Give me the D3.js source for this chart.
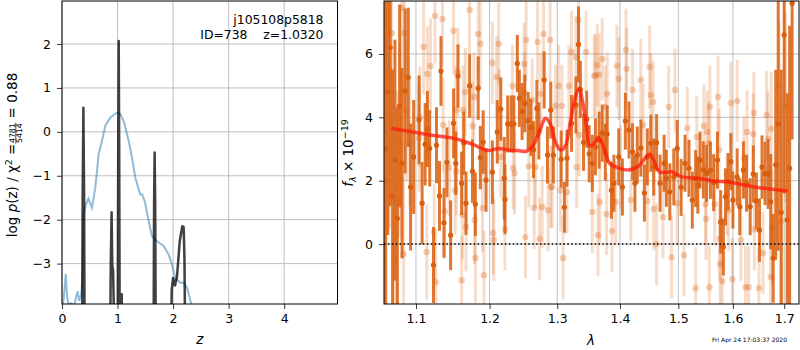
<!DOCTYPE html>
<html>
<head>
<meta charset="utf-8">
<script src="https://cdn.jsdelivr.net/npm/d3@7"></script>
<style>
  body { margin: 0; background: #fff; }
  svg { display: block; font-family: "DejaVu Sans", sans-serif; }
</style>
</head>
<body>
<div id="chart"></div>
<script>
// ---- p(z) panel ----
const zTicks = [0, 1, 2, 3, 4];
const pTicks = [-3, -2, -1, 0, 1, 2];
// chi2 curve (blue)
const chiZ   = [0.0, 0.02, 0.045, 0.067, 0.09, 0.11, 0.16, 0.22, 0.28, 0.31, 0.35, 0.37, 0.385, 0.43, 0.476, 0.54, 0.6, 0.66, 0.72, 0.78, 0.87, 0.99, 1.05, 1.12, 1.2, 1.26, 1.32, 1.38, 1.41, 1.44, 1.49, 1.56, 1.62, 1.71, 1.83, 1.92, 1.98, 2.04, 2.13, 2.19, 2.25, 2.33, 2.4];
const chiLog = [-4.1, -3.92, -3.6, -3.24, -3.7, -3.92, -3.9, -3.95, -3.63, -3.85, -3.68, -3.2, -1.88, -1.65, -1.52, -1.73, -1.27, -0.51, -0.2, 0.14, 0.33, 0.44, 0.41, 0.21, -0.2, -0.58, -1.04, -1.31, -1.43, -1.42, -1.58, -2.03, -2.37, -2.49, -2.6, -2.79, -3.02, -3.33, -3.44, -3.43, -3.55, -3.93, -4.3];
// p(z) curve (dark)
const pzZ   = [0.3, 0.36, 0.372, 0.385, 0.398, 0.41, 0.86, 0.878, 0.893, 0.905, 0.92, 0.935, 0.96, 1.0, 1.012, 1.021, 1.03, 1.042, 1.06, 1.075, 1.09, 1.645, 1.658, 1.668, 1.678, 1.692, 1.955, 1.975, 2.0, 2.035, 2.07, 2.12, 2.165, 2.19, 2.205, 2.225, 2.3];
const pzLog = [-6, -6, -1.5, 0.55, -1.5, -6, -6, -3.0, -1.83, -3.05, -3.15, -4.2, -6, -6, -0.5, 2.07, -0.5, -6, -4.2, -3.7, -6, -6, -1.6, -0.47, -1.6, -6, -6, -3.6, -3.33, -3.5, -3.3, -2.49, -2.15, -2.17, -2.9, -6, -6];

// ---- spectrum panel ----
const lamTicks  = [1.1, 1.2, 1.3, 1.4, 1.5, 1.6, 1.7];
const fluxTicks = [0, 2, 4, 6];
// dark (high weight) spectrum
const darkWave = [1.061, 1.064, 1.067, 1.070, 1.073, 1.076, 1.079, 1.082, 1.086, 1.090, 1.093, 1.097, 1.104, 1.108, 1.112, 1.115, 1.118, 1.123, 1.127, 1.131, 1.133, 1.137, 1.141, 1.146, 1.150, 1.153, 1.156, 1.161, 1.164, 1.167, 1.172, 1.176, 1.180, 1.184, 1.187, 1.191, 1.195, 1.204, 1.211, 1.216, 1.221, 1.222, 1.226, 1.231, 1.235, 1.240, 1.243, 1.247, 1.251, 1.256, 1.260, 1.264, 1.269, 1.272, 1.280, 1.285, 1.290, 1.294, 1.306, 1.311, 1.315, 1.322, 1.329, 1.333, 1.336, 1.341, 1.346, 1.350, 1.355, 1.360, 1.366, 1.371, 1.376, 1.379, 1.386, 1.390, 1.398, 1.404, 1.409, 1.415, 1.421, 1.425, 1.429, 1.435, 1.441, 1.446, 1.452, 1.457, 1.462, 1.468, 1.475, 1.479, 1.485, 1.492, 1.498, 1.505, 1.512, 1.519, 1.525, 1.531, 1.535, 1.539, 1.545, 1.551, 1.558, 1.564, 1.571, 1.577, 1.582, 1.586, 1.591, 1.596, 1.600, 1.608, 1.613, 1.620, 1.626, 1.633, 1.639, 1.645, 1.651, 1.656, 1.662, 1.668, 1.673, 1.678, 1.683, 1.688, 1.694, 1.700, 1.706, 1.711, 1.716];
const darkFlux = [3.0, 4.79, 6.2, 1.5, 2.65, 0.81, 4.36, 2.55, 4.83, 5.26, 1.8, 2.75, 3.92, 1.29, 3.15, 3.63, 3.02, -0.66, 3.12, 1.52, 5.46, 0.67, 2.58, 0.28, 3.81, 2.55, 5.30, 1.92, 3.18, 1.29, 4.99, 2.30, 1.26, 4.92, 2.73, 3.22, 2.02, 2.27, 3.54, 4.26, 2.08, 1.41, 3.79, 3.79, 3.79, 5.70, 4.60, 4.18, 4.44, 3.90, 3.68, 2.98, 4.28, 3.57, 5.18, 2.81, 4.23, 2.81, 2.68, 1.16, 2.71, 3.81, 4.39, 6.30, 4.88, 3.21, 3.94, 2.85, 2.55, 3.07, 3.28, 3.5, 2.9, 3.47, 1.70, 1.92, 2.75, 1.80, 3.88, 3.60, 2.91, 1.92, 2.81, 3.03, 1.61, 2.75, 3.18, 2.43, 3.20, 1.92, 2.55, 2.08, 1.65, 2.12, 3.02, 1.79, 2.55, 2.39, 1.39, 2.07, 1.86, 2.65, 2.34, 2.23, 2.33, 1.94, 2.65, 0.70, -0.09, 1.49, 1.97, 2.60, 1.39, 2.12, 1.18, 2.34, 1.92, 1.18, 2.21, 1.36, 0.44, 2.43, 2.23, 2.21, 1.34, -0.45, 2.5, 3.79, 1.0, 6.60, 0.76, 2.39, 7.6];
const darkErr  = [6.0, 4.5, 5.0, 4.0, 3.8, 3.5, 3.2, 3.0, 2.6, 2.2, 2.0, 1.8, 1.4, 1.3, 1.3, 1.2, 1.2, 1.2, 1.2, 1.1, 1.1, 1.1, 1.1, 1.1, 1.1, 1.0, 1.0, 1.0, 1.0, 1.0, 1.0, 1.0, 1.0, 1.0, 1.0, 1.0, 1.0, 1.0, 1.0, 1.0, 1.3, 1.1, 0.9, 0.9, 0.9, 0.9, 0.9, 0.9, 0.9, 0.9, 0.9, 0.9, 0.9, 0.9, 0.9, 0.9, 0.9, 0.9, 0.9, 0.8, 0.9, 0.9, 0.9, 1.2, 0.9, 0.9, 0.9, 0.9, 0.9, 0.9, 0.9, 0.9, 0.9, 0.9, 0.9, 0.9, 0.9, 0.9, 0.9, 0.9, 0.9, 0.9, 0.9, 0.9, 0.9, 0.9, 0.9, 0.9, 0.9, 0.9, 0.9, 0.9, 0.9, 0.9, 0.9, 0.9, 0.9, 0.9, 0.9, 0.9, 0.9, 0.9, 0.9, 0.9, 0.9, 0.9, 0.9, 1.0, 0.9, 0.9, 0.9, 0.9, 0.9, 0.9, 0.9, 0.9, 0.9, 0.9, 0.9, 0.9, 1.0, 1.0, 1.0, 1.1, 1.5, 1.4, 3.0, 4.0, 4.5, 5.0, 4.0, 4.5, 4.3];
// light (low weight) spectrum
const lightWave = [1.062, 1.066, 1.069, 1.072, 1.076, 1.079, 1.082, 1.084, 1.085, 1.088, 1.092, 1.104, 1.105, 1.110, 1.114, 1.115, 1.119, 1.124, 1.125, 1.126, 1.135, 1.136, 1.138, 1.144, 1.150, 1.152, 1.153, 1.154, 1.156, 1.161, 1.162, 1.163, 1.166, 1.167, 1.172, 1.176, 1.178, 1.179, 1.180, 1.184, 1.187, 1.190, 1.192, 1.204, 1.205, 1.206, 1.210, 1.213, 1.214, 1.216, 1.222, 1.233, 1.234, 1.236, 1.250, 1.251, 1.252, 1.253, 1.257, 1.262, 1.265, 1.267, 1.270, 1.273, 1.275, 1.277, 1.279, 1.286, 1.289, 1.290, 1.292, 1.297, 1.302, 1.305, 1.307, 1.309, 1.315, 1.318, 1.322, 1.329, 1.330, 1.333, 1.334, 1.345, 1.355, 1.358, 1.360, 1.363, 1.364, 1.366, 1.367, 1.371, 1.376, 1.378, 1.379, 1.387, 1.393, 1.395, 1.398, 1.401, 1.410, 1.411, 1.418, 1.421, 1.435, 1.439, 1.446, 1.450, 1.452, 1.456, 1.457, 1.462, 1.473, 1.483, 1.488, 1.494, 1.498, 1.510, 1.516, 1.531, 1.533, 1.546, 1.549, 1.550, 1.552, 1.555, 1.556, 1.557, 1.566, 1.572, 1.574, 1.575, 1.576, 1.580, 1.589, 1.592, 1.596, 1.599, 1.608, 1.615, 1.621, 1.624, 1.627, 1.630, 1.639, 1.640, 1.641, 1.650, 1.658, 1.665, 1.668, 1.673, 1.674, 1.676, 1.690, 1.694, 1.703];
const lightFlux = [2.0, 5.5, 6.66, -0.5, 1.33, 3.2, 7.45, -0.32, 6.66, 4.2, 3.19, 3.35, 4.01, 6.22, -0.25, 5.37, 5.62, 0.38, 7.20, -1.20, 7.10, 3.76, 1.04, 2.40, 6.73, 1.70, 4.23, 2.30, 5.43, -1.14, 0.92, 4.23, 4.80, 0.54, 7.39, 3.73, 4.64, 0.76, -0.44, 6.63, 6.32, 1.14, -0.98, 5.72, 0.35, 0.13, 5.27, 6.32, 4.23, 2.75, 0.47, 4.99, 2.40, 2.24, 5.68, 4.77, 0.22, 6.44, 2.46, 4.55, 1.14, 2.43, 6.38, 0.16, 4.74, 1.17, 6.63, 1.07, 6.44, 1.80, 1.80, 4.36, 4.99, 1.70, 4.36, -0.44, 1.64, 4.99, 6.06, 5.90, 2.43, 7.07, 3.44, 6.06, 1.01, 5.30, 5.34, 5.65, 0.28, 5.34, 1.33, 5.84, 4.33, 0.95, 4.74, 0.41, 1.33, 5.62, 5.21, 2.43, 6.13, 5.53, 1.39, 4.86, 5.18, 3.76, 1.36, 5.59, 4.70, 4.48, 1.11, 0.0, 0.85, 4.33, -0.41, 4.86, 1.29, -0.35, 3.66, -1.39, 3.38, 3.73, 1.26, 0.79, 3.54, 3.19, -1.36, 4.33, 1.26, 4.64, 2.97, 0.16, -0.63, -1.17, 1.58, 1.07, 4.45, -1.11, 4.52, 0.13, 2.72, -1.36, 3.54, -1.36, 3.47, 4.14, 0.47, -1.39, -0.28, 4.07, 3.32, -1.04, 3.63, 0.54, 5.0, 0.73, 4.33];
const lightErr  = [6.0, 5.0, 4.5, 4.0, 3.5, 3.0, 3.0, 2.8, 2.5, 2.2, 2.0, 1.7, 1.6, 1.5, 1.5, 1.5, 1.5, 1.5, 1.5, 1.5, 1.5, 1.5, 1.5, 1.5, 1.4, 1.4, 1.4, 1.4, 1.4, 1.4, 1.4, 1.4, 1.4, 1.4, 1.4, 1.4, 1.4, 1.4, 1.4, 1.4, 1.4, 1.4, 1.4, 1.3, 1.3, 1.3, 1.3, 1.3, 1.3, 1.3, 1.3, 1.3, 1.3, 1.3, 1.3, 1.3, 1.3, 1.3, 1.3, 1.3, 1.3, 1.3, 1.3, 1.3, 1.3, 1.3, 1.3, 1.3, 1.3, 1.3, 1.3, 1.3, 1.3, 1.3, 1.3, 1.3, 1.3, 1.3, 1.3, 1.3, 1.3, 1.3, 1.3, 1.3, 1.3, 1.3, 1.3, 1.3, 1.3, 1.3, 1.3, 1.3, 1.3, 1.3, 1.3, 1.3, 1.3, 1.3, 1.3, 1.3, 1.3, 1.3, 1.3, 1.3, 1.3, 1.3, 1.3, 1.3, 1.3, 1.3, 1.3, 1.3, 1.3, 1.3, 1.3, 1.3, 1.3, 1.3, 1.3, 1.3, 1.3, 1.3, 1.3, 1.3, 1.3, 1.3, 1.3, 1.3, 1.3, 1.3, 1.3, 1.3, 1.3, 1.3, 1.3, 1.3, 1.3, 1.3, 1.3, 1.3, 1.3, 1.3, 1.3, 1.3, 1.3, 1.3, 1.3, 1.3, 1.3, 1.4, 1.5, 1.6, 1.8, 1.8, 2.0, 4.0, 3.0, 3.5];
// best-fit template (red)
const modelWave = [1.070, 1.085, 1.102, 1.128, 1.150, 1.166, 1.178, 1.192, 1.199, 1.213, 1.227, 1.240, 1.253, 1.262, 1.272, 1.282, 1.290, 1.297, 1.305, 1.312, 1.320, 1.328, 1.334, 1.339, 1.345, 1.351, 1.358, 1.365, 1.373, 1.383, 1.398, 1.414, 1.430, 1.442, 1.450, 1.458, 1.467, 1.478, 1.488, 1.505, 1.539, 1.564, 1.595, 1.625, 1.655, 1.690, 1.704];
const modelFlux = [3.65, 3.58, 3.51, 3.41, 3.34, 3.23, 3.13, 2.99, 2.95, 3.02, 2.97, 2.95, 2.93, 3.07, 3.5, 3.97, 3.76, 3.23, 2.97, 3.07, 3.81, 4.65, 4.92, 4.55, 3.81, 3.1, 3.18, 3.37, 3.07, 2.55, 2.4, 2.34, 2.45, 2.7, 2.84, 2.6, 2.28, 2.26, 2.28, 2.13, 2.07, 1.99, 1.95, 1.85, 1.77, 1.71, 1.68];

const W = 800, H = 350;
const orange = "#d95f0e";
const gridColor = "#b0b0b0";

const svg = d3.select("#chart").append("svg")
    .attr("width", W)
    .attr("height", H);

function panel(id, box, x, y, xt, yt, xfmt) {
    const g = svg.append("g");
    svg.append("clipPath").attr("id", id)
        .append("rect")
        .attr("x", box.x0).attr("y", box.y0)
        .attr("width", box.x1 - box.x0).attr("height", box.y1 - box.y0);

    // grid
    g.append("g").selectAll("line").data(xt).join("line")
        .attr("x1", d => x(d)).attr("x2", d => x(d))
        .attr("y1", box.y0).attr("y2", box.y1)
        .attr("stroke", gridColor).attr("stroke-width", 0.8);
    g.append("g").selectAll("line").data(yt).join("line")
        .attr("x1", box.x0).attr("x2", box.x1)
        .attr("y1", d => y(d)).attr("y2", d => y(d))
        .attr("stroke", gridColor).attr("stroke-width", 0.8);

    const plot = g.append("g").attr("clip-path", `url(#${id})`);

    // axes
    const ax = g.append("g")
        .attr("transform", `translate(0,${box.y1})`)
        .call(d3.axisBottom(x).tickValues(xt).tickSize(5).tickPadding(5.5).tickFormat(xfmt));
    const ay = g.append("g")
        .attr("transform", `translate(${box.x0},0)`)
        .call(d3.axisLeft(y).tickValues(yt).tickSize(5).tickPadding(6).tickFormat(d3.format("d")));
    [ax, ay].forEach(a => {
        a.select(".domain").remove();
        a.selectAll("text").attr("font-size", 12.5).attr("fill", "#000")
            .attr("font-family", "DejaVu Sans, sans-serif");
        a.selectAll("line").attr("stroke", "#000").attr("stroke-width", 0.8);
    });
    return { g, plot };
}

// ---------- left panel ----------
const L = { x0: 62, x1: 337.5, y0: 1, y1: 304 };
const xz = d3.scaleLinear().domain([0, 4.96]).range([L.x0, L.x1]);
const yp = d3.scaleLinear().domain([-3.92, 2.98]).range([L.y1, L.y0]);
const left = panel("clipL", L, xz, yp, zTicks, pTicks, d3.format("d"));

const chiLine = d3.line().x((d, i) => xz(chiZ[i])).y(d => yp(d));
left.plot.append("path")
    .datum(chiLog)
    .attr("d", chiLine)
    .attr("fill", "none")
    .attr("stroke", "#1f77b4")
    .attr("stroke-opacity", 0.5)
    .attr("stroke-width", 2);

const pzLine = d3.line().x((d, i) => xz(pzZ[i])).y(d => yp(d));
left.plot.append("path")
    .datum(pzLog)
    .attr("d", pzLine)
    .attr("fill", "none")
    .attr("stroke", "#000")
    .attr("stroke-opacity", 0.75)
    .attr("stroke-width", 2.5)
    .attr("stroke-linejoin", "round");

left.g.append("rect")
    .attr("x", L.x0).attr("y", L.y0)
    .attr("width", L.x1 - L.x0).attr("height", L.y1 - L.y0)
    .attr("fill", "none").attr("stroke", "#000").attr("stroke-width", 1);

// annotation
left.g.append("text")
    .attr("x", 323.5).attr("y", 24)
    .attr("text-anchor", "end").attr("font-size", 12.4)
    .text("j105108p5818");
left.g.append("text")
    .attr("x", 323.5).attr("y", 38.5)
    .attr("text-anchor", "end").attr("font-size", 12.4)
    .style("white-space", "pre")
    .text("ID=738    z=1.0320");

// x label
left.g.append("text")
    .attr("x", (L.x0 + L.x1) / 2).attr("y", 344)
    .attr("text-anchor", "middle").attr("font-size", 13.5)
    .attr("font-style", "italic")
    .text("z");

// y label: log p(z) / chi2 = 4781/5414 = 0.88
const yl = left.g.append("g");
const t1 = yl.append("text").attr("font-size", 13.5);
t1.append("tspan").text("log ");
t1.append("tspan").attr("font-style", "italic").text("p");
t1.append("tspan").text("(z) / χ");
t1.append("tspan").attr("font-size", 9.5).attr("dy", -5).text("2");
t1.append("tspan").attr("dy", 5).text(" = ");
const w1 = t1.node().getComputedTextLength();
const num = yl.append("text").attr("font-size", 7.8).attr("text-anchor", "middle").text("4781");
const fw = num.node().getComputedTextLength() + 1;
num.attr("x", w1 + fw / 2).attr("y", -1.8);
yl.append("line")
    .attr("x1", w1).attr("x2", w1 + fw)
    .attr("y1", -0.9).attr("y2", -0.9)
    .attr("stroke", "#000").attr("stroke-width", 0.7);
yl.append("text").attr("font-size", 7.8).attr("text-anchor", "middle")
    .attr("x", w1 + fw / 2).attr("y", 5.4).text("5414");
const t2 = yl.append("text").attr("font-size", 13.5).attr("x", w1 + fw).style("white-space", "pre").text(" = 0.88");
const wTot = w1 + fw + t2.node().getComputedTextLength();
yl.attr("transform", `translate(16.7,${155 + wTot / 2}) rotate(-90)`);

// ---------- right panel ----------
const R = { x0: 384, x1: 799, y0: 1, y1: 304 };
const xl = d3.scaleLog().domain([1.0592, 1.730]).range([R.x0, R.x1]);
const yf = d3.scaleLinear().domain([-1.89, 7.67]).range([R.y1, R.y0]);
const right = panel("clipR", R, xl, yf, lamTicks, fluxTicks, d3.format(".1f"));

// light spectrum
right.plot.append("g").selectAll("line").data(lightWave).join("line")
    .attr("x1", d => xl(d)).attr("x2", d => xl(d))
    .attr("y1", (d, i) => yf(lightFlux[i] - lightErr[i]))
    .attr("y2", (d, i) => yf(lightFlux[i] + lightErr[i]))
    .attr("stroke", orange).attr("stroke-opacity", 0.22).attr("stroke-width", 3);
right.plot.append("g").selectAll("circle").data(lightWave).join("circle")
    .attr("cx", d => xl(d)).attr("cy", (d, i) => yf(lightFlux[i]))
    .attr("r", 3.2).attr("fill", orange).attr("fill-opacity", 0.3);

// dark spectrum
right.plot.append("g").selectAll("line").data(darkWave).join("line")
    .attr("x1", d => xl(d)).attr("x2", d => xl(d))
    .attr("y1", (d, i) => yf(darkFlux[i] - darkErr[i]))
    .attr("y2", (d, i) => yf(darkFlux[i] + darkErr[i]))
    .attr("stroke", orange).attr("stroke-opacity", 0.85).attr("stroke-width", 3);
right.plot.append("g").selectAll("circle").data(darkWave).join("circle")
    .attr("cx", d => xl(d)).attr("cy", (d, i) => yf(darkFlux[i]))
    .attr("r", 2.6).attr("fill", orange);

// model
const modelLine = d3.line().curve(d3.curveCatmullRom)
    .x((d, i) => xl(modelWave[i])).y(d => yf(d));
right.plot.append("path")
    .datum(modelFlux)
    .attr("d", modelLine)
    .attr("fill", "none")
    .attr("stroke", "#ff1a0a").attr("stroke-opacity", 0.75)
    .attr("stroke-width", 3.5).attr("stroke-linecap", "round");

// zero line
right.plot.append("line")
    .attr("x1", R.x0).attr("x2", R.x1)
    .attr("y1", yf(0)).attr("y2", yf(0))
    .attr("stroke", "#000").attr("stroke-width", 1.5)
    .attr("stroke-dasharray", "1.5,2.4");

right.g.append("rect")
    .attr("x", R.x0).attr("y", R.y0)
    .attr("width", R.x1 - R.x0).attr("height", R.y1 - R.y0)
    .attr("fill", "none").attr("stroke", "#000").attr("stroke-width", 1);

right.g.append("text")
    .attr("x", 591).attr("y", 345)
    .attr("text-anchor", "middle").attr("font-size", 13.5)
    .attr("font-style", "italic")
    .text("λ");

// y label: f_lambda x 10^-19
const yr = right.g.append("text").attr("font-size", 13.5);
yr.append("tspan").attr("font-style", "italic").text("f");
yr.append("tspan").attr("font-style", "italic").attr("font-size", 9.5).attr("dy", 3).text("λ");
yr.append("tspan").attr("dy", -3).text(" × 10");
yr.append("tspan").attr("font-size", 9.5).attr("dy", -5).text("−19");
const wr = yr.node().getComputedTextLength();
yr.attr("transform", `translate(352.5,${153 + wr / 2}) rotate(-90)`);

// timestamp
svg.append("text")
    .attr("x", 787).attr("y", 342)
    .attr("text-anchor", "end").attr("font-size", 6)
    .text("Fri Apr 24 17:03:37 2020");
</script>
</body>
</html>
